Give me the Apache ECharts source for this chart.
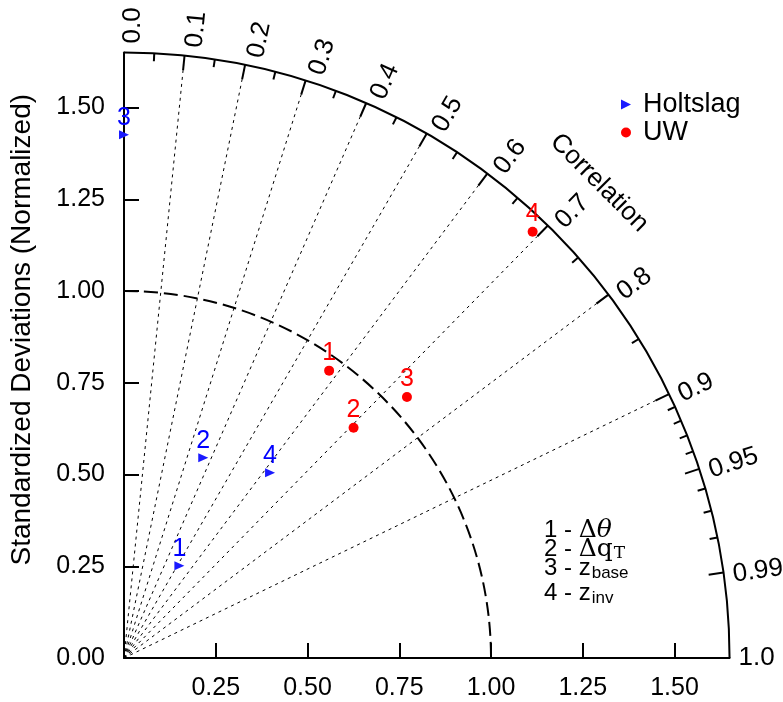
<!DOCTYPE html>
<html>
<head>
<meta charset="utf-8">
<title>Taylor diagram</title>
<script src="https://cdn.jsdelivr.net/npm/echarts@6/dist/echarts.min.js"></script>
<style>
html, body { margin: 0; padding: 0; background: #fff; }
#main { width: 783px; height: 702px; }
</style>
</head>
<body>
<div id="main"></div>
<script>
// point numbers (1 - dtheta, 2 - dqT, 3 - zbase, 4 - zinv)
var pointNames = ['1', '2', '3', '4'];

// normalized standard deviation and correlation
var holtStd  = [0.293, 0.587, 1.426, 0.643];
var holtCorr = [0.515, 0.368, 0.000, 0.619];
var uwStd    = [0.962, 0.886, 1.049, 1.609];
var uwCorr   = [0.581, 0.706, 0.735, 0.692];

// axes
var stdMax = 1.65;
var stdRef = 1.0;
var xTicks = [0.25, 0.5, 0.75, 1.0, 1.25, 1.5];
var yTicks = [0, 0.25, 0.5, 0.75, 1.0, 1.25, 1.5];

// correlation arc
var corrLabels = ['0.0', '0.1', '0.2', '0.3', '0.4', '0.5', '0.6', '0.7', '0.8', '0.9', '0.95', '0.99', '1.0'];
var corrLines  = [0.1, 0.2, 0.3, 0.4, 0.5, 0.6, 0.7, 0.8, 0.9];
var corrMajor  = [0.1, 0.2, 0.3, 0.4, 0.5, 0.6, 0.7, 0.8, 0.9, 0.95, 0.99];
var corrMinor  = [0.05, 0.15, 0.25, 0.35, 0.45, 0.55, 0.65, 0.75, 0.85, 0.91, 0.92, 0.93, 0.94, 0.96, 0.97, 0.98];

// key: [number part, symbol part, subscript]
var keyLines = [
    ['1 - ', 'Δθ', ''],
    ['2 - ', 'Δq', 'T'],
    ['3 - z', '', 'base'],
    ['4 - z', '', 'inv']
];

var FONT = 'Liberation Sans, Arial, Helvetica, sans-serif';
var SERIF = 'DejaVu Serif, Liberation Serif, serif';

function toXY(std, corr) {
    return [std * corr, std * Math.sqrt(1 - corr * corr)];
}

function buildPoints(stds, corrs) {
    var out = [];
    for (var i = 0; i < stds.length; i++) {
        out.push({name: pointNames[i], value: toXY(stds[i], corrs[i])});
    }
    return out;
}

var measureCtx = document.createElement('canvas').getContext('2d');
function textWidth(text, font) {
    measureCtx.font = font;
    return measureCtx.measureText(text).width;
}

var chart = echarts.init(document.getElementById('main'), null, {renderer: 'canvas'});

var option = {
    animation: false,
    backgroundColor: '#fff',
    textStyle: {fontFamily: FONT},
    grid: {left: 124, top: 52.45, width: 605.55, height: 605.55},
    legend: {
        orient: 'vertical',
        left: 616,
        top: 86,
        itemWidth: 10,
        itemHeight: 10,
        itemGap: 1,
        textStyle: {fontSize: 27, color: '#000', fontFamily: FONT, padding: [0, 0, 0, 7]},
        data: [
            {name: 'Holtslag', icon: 'path://M0,0L10,5L0,10Z'},
            {name: 'UW', icon: 'circle'}
        ]
    },
    xAxis: {
        type: 'value',
        min: 0,
        max: stdMax,
        axisLine: {lineStyle: {color: '#000', width: 2}},
        axisTick: {inside: true, length: 15, lineStyle: {color: '#000', width: 2}, customValues: xTicks},
        axisLabel: {
            customValues: xTicks,
            margin: 18,
            fontSize: 25,
            color: '#000',
            fontFamily: FONT,
            formatter: function (v) { return v.toFixed(2); }
        },
        splitLine: {show: false}
    },
    yAxis: {
        type: 'value',
        min: 0,
        max: stdMax,
        name: 'Standardized Deviations (Normalized)',
        nameLocation: 'middle',
        nameGap: 88,
        nameTextStyle: {fontSize: 28, color: '#000', fontFamily: FONT, padding: [0, 0, 0, 51]},
        axisLine: {lineStyle: {color: '#000', width: 2}},
        axisTick: {inside: true, length: 15, lineStyle: {color: '#000', width: 2}, customValues: yTicks.slice(1)},
        axisLabel: {
            customValues: yTicks,
            margin: 19,
            fontSize: 25,
            color: '#000',
            fontFamily: FONT,
            formatter: function (v) { return v.toFixed(2); }
        },
        splitLine: {show: false}
    },
    series: [
        {
            name: 'Holtslag',
            type: 'scatter',
            clip: false,
            z: 5,
            symbol: 'path://M0,0L10,5L0,10Z',
            symbolSize: [10, 9],
            itemStyle: {color: '#1a1aff', opacity: 1},
            label: {show: true, position: 'top', distance: 0, formatter: '{b}', fontSize: 25, color: '#0000ff', fontFamily: FONT},
            data: buildPoints(holtStd, holtCorr)
        },
        {
            name: 'UW',
            type: 'scatter',
            clip: false,
            z: 5,
            symbol: 'circle',
            symbolSize: 10,
            itemStyle: {color: '#ff0000', opacity: 1},
            label: {show: true, position: 'top', distance: 0, formatter: '{b}', fontSize: 25, color: '#ff0000', fontFamily: FONT},
            data: buildPoints(uwStd, uwCorr)
        }
    ]
};
chart.setOption(option);

// polar decorations in pixel space, taken from the cartesian axes
function drawPolar() {
    var o = chart.convertToPixel({gridIndex: 0}, [0, 0]);
    var px = chart.convertToPixel({gridIndex: 0}, [1, 0])[0] - o[0];
    var R = stdMax * px;
    var g = [];

    function pt(r, th) { return [o[0] + r * Math.cos(th), o[1] - r * Math.sin(th)]; }

    // outer arc
    g.push({type: 'arc', z: 1, silent: true,
        shape: {cx: o[0], cy: o[1], r: R, startAngle: -Math.PI / 2, endAngle: 0, clockwise: true},
        style: {stroke: '#000', lineWidth: 2, fill: null}});
    // reference std arc
    g.push({type: 'arc', z: 1, silent: true,
        shape: {cx: o[0], cy: o[1], r: stdRef * px, startAngle: -Math.PI / 2, endAngle: 0, clockwise: true},
        style: {stroke: '#000', lineWidth: 2, fill: null, lineDash: [14, 6]}});

    // radial dotted lines
    corrLines.forEach(function (c) {
        var th = Math.acos(c);
        var p = pt(R - 15, th);
        g.push({type: 'line', z: 1, silent: true,
            shape: {x1: o[0], y1: o[1], x2: p[0], y2: p[1]},
            style: {stroke: '#000', lineWidth: 1, lineDash: [3, 4]}});
    });

    // ticks on the arc
    corrMajor.forEach(function (c) {
        var th = Math.acos(c);
        var a = pt(R, th), b = pt(R - 15, th);
        g.push({type: 'line', z: 1, silent: true,
            shape: {x1: a[0], y1: a[1], x2: b[0], y2: b[1]},
            style: {stroke: '#000', lineWidth: 2}});
    });
    corrMinor.forEach(function (c) {
        var th = Math.acos(c);
        var a = pt(R, th), b = pt(R - 8, th);
        g.push({type: 'line', z: 1, silent: true,
            shape: {x1: a[0], y1: a[1], x2: b[0], y2: b[1]},
            style: {stroke: '#000', lineWidth: 2}});
    });

    // correlation labels
    corrLabels.forEach(function (s) {
        var th = Math.acos(parseFloat(s));
        var p = pt(R + 9, th);
        var off = 9 * Math.sqrt(Math.sin(th));
        g.push({type: 'text', z: 1, silent: true,
            x: p[0] + off * Math.sin(th), y: p[1] + off * Math.cos(th),
            rotation: th,
            style: {text: s, fontSize: 26, fontFamily: FONT, fill: '#000', align: 'left', verticalAlign: 'middle'}});
    });

    var tp = pt(1.831 * px, Math.PI / 4);
    g.push({type: 'text', z: 1, silent: true, x: tp[0], y: tp[1], rotation: -Math.PI / 4,
        style: {text: 'Correlation', fontSize: 26, fontFamily: FONT, fill: '#000', align: 'center', verticalAlign: 'middle'}});

    // key for point numbers
    var keyX = 544;
    var keyY = [530, 549, 568, 593];
    keyLines.forEach(function (ln, i) {
        var w1 = textWidth(ln[0], '24px ' + FONT);
        var w2 = ln[1] ? textWidth(ln[1], '25px ' + SERIF) : 0;
        g.push({type: 'text', z: 1, silent: true, x: keyX, y: keyY[i],
            style: {text: ln[0], fontSize: 24, fontFamily: FONT, fill: '#000', align: 'left', verticalAlign: 'middle'}});
        if (ln[1]) {
            g.push({type: 'text', z: 1, silent: true, x: keyX + w1, y: keyY[i],
                style: {
                    text: '{u|' + ln[1].charAt(0) + '}{' + (ln[1].charAt(1) === 'θ' ? 'i' : 'u') + '|' + ln[1].charAt(1) + '}',
                    fill: '#000', align: 'left', verticalAlign: 'middle',
                    rich: {
                        u: {fontSize: 25, fontFamily: SERIF},
                        i: {fontSize: 25, fontFamily: SERIF, fontStyle: 'italic'}
                    }
                }});
        }
        if (ln[2]) {
            g.push({type: 'text', z: 1, silent: true, x: keyX + w1 + w2 + 1, y: keyY[i] + 5,
                style: {text: ln[2], fontSize: 17, fontFamily: ln[1] ? SERIF : FONT, fill: '#000',
                    align: 'left', verticalAlign: 'middle'}});
        }
    });

    chart.setOption({graphic: {elements: g}});
}
drawPolar();
</script>
</body>
</html>
